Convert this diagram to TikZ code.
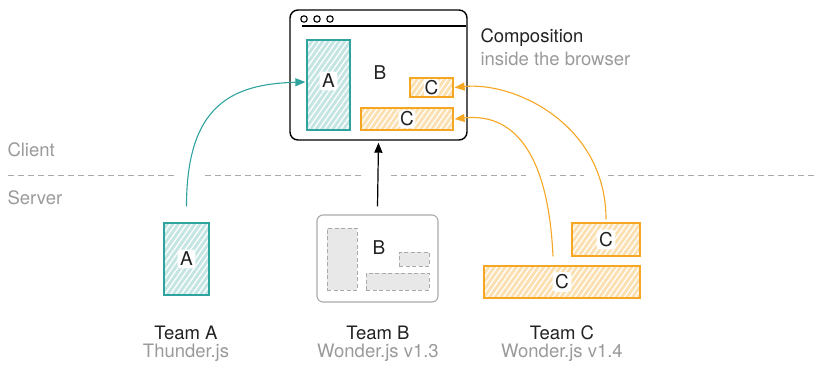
\documentclass[tikz,border=0pt]{standalone}
\usepackage{fontspec}
\setmainfont{TeX Gyre Heros}
\usetikzlibrary{arrows.meta,patterns.meta}
\definecolor{tealc}{HTML}{2FA39E}
\definecolor{orangec}{HTML}{F5A623}
\definecolor{greyt}{HTML}{9A9A9A}
\definecolor{greyl}{HTML}{AAAAAA}
\definecolor{boxg}{HTML}{E8E8E8}
\definecolor{inkc}{HTML}{222222}
\tikzset{
  base/.style={font=\fontsize{18.5}{21}\selectfont, text=inkc},
  sub/.style={font=\fontsize{18.5}{21}\selectfont, text=greyt},
  hatchA/.style={draw=tealc, line width=1.2pt, preaction={fill=tealc!28},
    pattern={Lines[angle=55,distance=4.5pt,line width=1.3pt]}, pattern color=white, inner sep=0pt},
  hatchC/.style={draw=orangec, line width=1.2pt, preaction={fill=orangec!35},
    pattern={Lines[angle=55,distance=4.5pt,line width=1.3pt]}, pattern color=white, inner sep=0pt},
  lab/.style={fill=white, rounded corners=3pt, inner sep=2.5pt, font=\fontsize{19}{21}\selectfont, text=inkc},
  ghost/.style={draw=greyl, dash pattern=on 4pt off 2.5pt, fill=boxg, line width=1pt, inner sep=0pt},
  sep/.style={draw=greyl, line width=1pt, dash pattern=on 6pt off 4pt},
  tip/.style={-{Triangle[length=10pt,width=8pt]}},
}
\begin{document}
\begin{tikzpicture}[x=1pt,y=-1pt]
\useasboundingbox (0,0) rectangle (816,365);
% browser window
\node[draw=black, line width=1.4pt, rounded corners=8pt, minimum width=177pt, minimum height=130pt, inner sep=0pt] (win) at (378.5,75) {};
\draw[line width=1.4pt] (302,26) -- (466,26);
\foreach \cx in {304,317,330} \draw[line width=1.1pt] (\cx,19) circle (3.2pt);
\node[hatchA, minimum width=43pt, minimum height=90pt] (wA) at (328.5,85) {};
\node[lab] (wAl) at (328.5,81) {A};
\node[base, font=\fontsize{19}{21}\selectfont] (wB) at (380,73) {B};
\node[hatchC, minimum width=43pt, minimum height=19pt] (wCs) at (431.5,87.5) {};
\node[lab, inner sep=1pt] (wCsl) at (431.5,87.5) {C};
\node[hatchC, minimum width=92pt, minimum height=22pt] (wCb) at (407,119) {};
\node[lab, inner sep=1.5pt] (wCbl) at (407,119) {C};
% composition label
\node[base, anchor=west] (comp) at (477,38) {Composition};
\node[sub, anchor=west] (insd) at (477,59) {inside the browser};
% client / server
\node[sub, anchor=west] (cli) at (4,150) {Client};
\node[sub, anchor=west] (srv) at (4,198) {Server};
\draw[sep] (8,175) -- (178,175);
\draw[sep] (205,175) -- (365,175);
\draw[sep] (391,175) -- (526,175);
\draw[sep] (550,175) -- (584,175);
\draw[sep] (608,175) -- (816,175);
% team A
\node[hatchA, minimum width=45pt, minimum height=72pt] (tA) at (186.5,259) {};
\node[lab] (tAl) at (186.5,259) {A};
% team B
\node[draw=greyl, line width=1.1pt, rounded corners=6pt, minimum width=121pt, minimum height=87pt, inner sep=0pt] (tB) at (377.5,258.5) {};
\node[ghost, minimum width=30pt, minimum height=62pt] (g1) at (342,259) {};
\node[ghost, minimum width=63pt, minimum height=17pt] (g2) at (397.5,281.5) {};
\node[ghost, minimum width=30pt, minimum height=14pt] (g3) at (414,259) {};
\node[base, font=\fontsize{19}{21}\selectfont] (tBl) at (379,248) {B};
% team C
\node[hatchC, minimum width=68pt, minimum height=33pt] (tCs) at (606,239.5) {};
\node[lab] (tCsl) at (606,239.5) {C};
\node[hatchC, minimum width=156pt, minimum height=32pt] (tCb) at (562,282) {};
\node[lab] (tCbl) at (562,282) {C};
% team labels
\node[base] (nA) at (186,333) {Team A};
\node[sub] (sA) at (186,353) {Thunder.js};
\node[base] (nB) at (378,333) {Team B};
\node[sub] (sB) at (378,353) {Wonder.js v1.3};
\node[base] (nC) at (562,333) {Team C};
\node[sub] (sC) at (562,353) {Wonder.js v1.4};
% connectors
\coordinate (a0) at ([yshift=16pt]tA.north);
\coordinate (b0) at ([yshift=8pt]tB.north);
\coordinate (c0) at ([xshift=-9pt,yshift=9pt]tCb.north);
\coordinate (c1) at ([yshift=3pt]tCs.north);
\draw[tealc, line width=1.1pt, tip] (a0) .. controls +(0,-100) and +(-75,2) .. ([yshift=3pt,xshift=-1pt]wA.west);
\draw[black, line width=1.2pt, tip] (b0) -- ([yshift=-2pt]win.south);
\draw[orangec, line width=1.1pt, tip] (c0) .. controls +(-5,-110) and +(55,-6) .. ([xshift=1pt]wCb.east);
\draw[orangec, line width=1.1pt, tip] (c1) .. controls +(0,-95) and +(60,-6) .. ([xshift=1pt]wCs.east);
\end{tikzpicture}
\end{document}
